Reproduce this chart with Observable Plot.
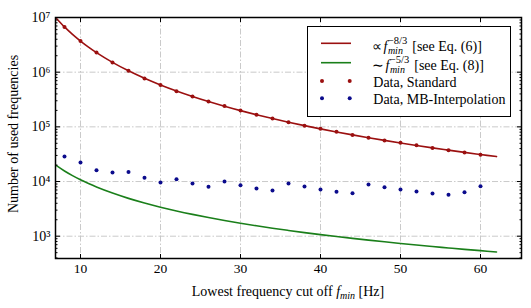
<!DOCTYPE html>
<html><head><meta charset="utf-8">
<script src="https://cdn.jsdelivr.net/npm/d3@7"></script>
<script src="https://cdn.jsdelivr.net/npm/@observablehq/plot@0.6"></script>
<style>html,body{margin:0;padding:0;background:#fff}svg{display:block}</style>
</head><body><div id="chart"></div>
<script>
// ---- data ----
const fmin = [8,10,12,14,16,18,20,22,24,26,28,30,32,34,36,38,40,42,44,46,48,50,52,54,56,58,60];
const standard = [6.7e6,3.7e6,2.28e6,1.51e6,1.06e6,7.7e5,5.8e5,4.5e5,3.6e5,2.9e5,2.4e5,2.0e5,1.67e5,1.42e5,1.22e5,1.05e5,9.2e4,8.1e4,7.1e4,6.3e4,5.6e4,5.1e4,4.6e4,4.1e4,3.75e4,3.4e4,3.1e4];
const mbInterp = [28700,22200,16100,14600,15000,11700,9600,11000,9200,8000,10000,8550,7450,6840,9200,8100,7150,6470,6100,8800,7870,7150,6560,6030,5710,6380,8200];
const lineF = [7,8,9,10,11,12,14,16,18,20,22,24,26,28,30,32,34,36,38,40,42,44,46,48,50,52,54,56,58,60,62];
const model83 = [9.59e6,6.72e6,4.91e6,3.705e6,2.872e6,2.277e6,1.509e6,1.058e6,7.73e5,5.84e5,4.53e5,3.59e5,2.90e5,2.38e5,1.98e5,1.667e5,1.417e5,1.217e5,1.054e5,9.19e4,8.07e4,7.13e4,6.33e4,5.65e4,5.07e4,4.57e4,4.13e4,3.75e4,3.41e4,3.12e4,2.86e4];
const model53 = [19500,15600,12840,10770,9190,7950,6150,4920,4045,3392,2895,2504,2191,1936,1726,1550,1401,1274,1164,1069,985,912,847,789,737,690,648,610,575,544,515];
const xTicks = [10,20,30,40,50,60];
const yTicks = [1e3,1e4,1e5,1e6,1e7];
const yTickLabels = ["10³","10⁴","10⁵","10⁶","10⁷"];
const legendLabels = ["Data, Standard","Data, MB-Interpolation"];
const xLabel = ["Lowest frequency cut off ", "f", "min", " [Hz]"];
const yLabel = "Number of used frequencies";

const minorY = [];
for (let e = 2; e <= 6; e++) for (let m = 2; m <= 9; m++) { const v = m * 10 ** e; if (v >= 391) minorY.push(v); }

const RED = "#9b1010", GREEN = "#1a7f1a", BLUE = "#0b0b8c";
const GRID = {stroke: "#c4c4c4", strokeOpacity: 1, strokeWidth: 0.9, strokeDasharray: "6,2,1.5,2"};
const FONT = "'Liberation Serif','Times New Roman',serif";

const plot = Plot.plot({
  width: 531, height: 308,
  marginLeft: 55, marginRight: 10, marginTop: 17, marginBottom: 50,
  style: {fontFamily: FONT, fontSize: "13px", background: "white", color: "black"},
  x: {domain: [6.875, 65.125]},
  y: {type: "log", domain: [391, 1e7]},
  marks: [
    Plot.gridX(xTicks, GRID),
    Plot.gridY(yTicks, GRID),
    Plot.line(lineF, {x: d => d, y: (d, i) => model83[i], stroke: RED, strokeWidth: 1.6, curve: "catmull-rom"}),
    Plot.line(lineF, {x: d => d, y: (d, i) => model53[i], stroke: GREEN, strokeWidth: 1.6, curve: "catmull-rom"}),
    Plot.dot(fmin, {x: d => d, y: (d, i) => standard[i], r: 2, fill: RED}),
    Plot.dot(fmin, {x: d => d, y: (d, i) => mbInterp[i], r: 2, fill: BLUE}),
    Plot.axisX(xTicks, {anchor: "bottom", tickSize: 0, tickPadding: 5, tickFormat: d => String(d), label: null, fontSize: 13.5}),
    Plot.axisX(xTicks, {anchor: "bottom", tickSize: -4, tickFormat: () => "", label: null}),
    Plot.axisX(xTicks, {anchor: "top", tickSize: -4, tickFormat: () => "", label: null}),
    Plot.axisY(yTicks, {anchor: "left", tickSize: 0, tickPadding: 5, tickFormat: d => yTickLabels[yTicks.indexOf(d)], label: null, fontSize: 14}),
    Plot.axisY(yTicks, {anchor: "left", tickSize: -5, tickFormat: () => "", label: null}),
    Plot.axisY(yTicks, {anchor: "right", tickSize: -5, tickFormat: () => "", label: null}),
    Plot.axisY(minorY, {anchor: "left", tickSize: -2.5, tickFormat: () => "", label: null}),
    Plot.axisY(minorY, {anchor: "right", tickSize: -2.5, tickFormat: () => "", label: null}),
    Plot.frame({stroke: "black", strokeWidth: 1.5})
  ]
});
document.getElementById("chart").appendChild(plot);

// ---- axis titles and legend with rich text ----
const svg = d3.select(plot);
const g = svg.append("g").attr("font-family", FONT).attr("font-size", 14).attr("fill", "black").attr("text-anchor", "start");

const xt = g.append("text").attr("x", 288).attr("y", 296).attr("text-anchor", "middle");
xt.append("tspan").text(xLabel[0]);
xt.append("tspan").attr("font-style", "italic").text(xLabel[1]);
xt.append("tspan").attr("font-style", "italic").attr("font-size", 10).attr("dy", 3).text(xLabel[2]);
xt.append("tspan").attr("dy", -3).text(xLabel[3]);

g.append("text").attr("transform", "translate(18,134) rotate(-90)").attr("text-anchor", "middle").text(yLabel);

// legend
const lg = g.append("g").attr("text-anchor", "start");
lg.append("rect").attr("x", 307.5).attr("y", 26.5).attr("width", 203).attr("height", 90)
  .attr("fill", "white").attr("stroke", "black").attr("stroke-width", 1);

function mathRow(y, sym, sup, rest) {
  const x0 = 371.5;
  const t1 = lg.append("text").attr("x", x0).attr("y", y).text(sym);
  const w1 = t1.node().getComputedTextLength() + 2;
  const tf = lg.append("text").attr("x", x0 + w1).attr("y", y).attr("font-style", "italic").text("f");
  const wf = tf.node().getComputedTextLength();
  const xs = x0 + w1 + wf + 0.5;
  const sb = lg.append("text").attr("x", xs).attr("y", y + 3).attr("font-size", 10).attr("font-style", "italic").text("min");
  const sp = lg.append("text").attr("x", xs).attr("y", y - 7).attr("font-size", 10.5).text(sup);
  const w = Math.max(sb.node().getComputedTextLength(), sp.node().getComputedTextLength());
  lg.append("text").attr("x", xs + w + 5).attr("y", y).text(rest);
}
const lineRows = [{y: 43.3, color: RED}, {y: 62.7, color: GREEN}];
lineRows.forEach(r => lg.append("line").attr("x1", 321).attr("x2", 351).attr("y1", r.y).attr("y2", r.y)
  .attr("stroke", r.color).attr("stroke-width", 1.6));
mathRow(50.5, "∝", "−8/3", "[see Eq. (6)]");
mathRow(70, "∼", "−5/3", "[see Eq. (8)]");
const dotRows = [{y: 81, color: RED, label: legendLabels[0], base: 86.5}, {y: 98.3, color: BLUE, label: legendLabels[1], base: 103.5}];
dotRows.forEach(r => {
  [322, 349.7].forEach(cx => lg.append("circle").attr("cx", cx).attr("cy", r.y).attr("r", 2).attr("fill", r.color));
  lg.append("text").attr("x", 373.3).attr("y", r.base).text(r.label);
});
</script>
</body></html>
